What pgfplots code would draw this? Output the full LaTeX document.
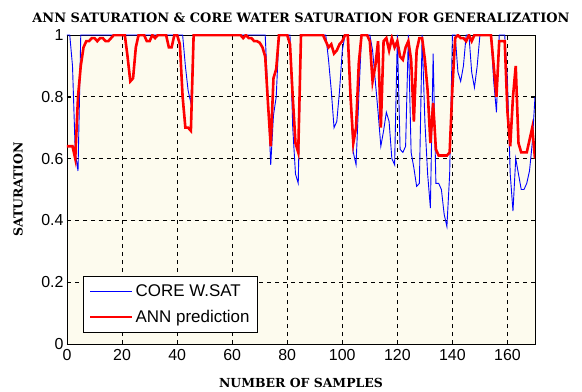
\documentclass[border=0pt]{standalone}
\usepackage{pgfplots}
\pgfplotsset{compat=1.18}
\usepackage{fontspec}
\setmainfont{Liberation Sans}
\newfontfamily\titlefont{DejaVu Serif}
\definecolor{bgcream}{RGB}{253,251,238}
\begin{document}
\begin{tikzpicture}
\begin{axis}[
  scale only axis,
  width=468bp, height=309bp,
  at={(0,0)}, anchor=south west,
  xmin=0, xmax=170, ymin=0, ymax=1,
  xtick={0,20,...,160},
  ytick={0,0.2,0.4,0.6,0.8,1},
  yticklabels={0,0.2,0.4,0.6,0.8,1},
  axis background/.style={fill=bgcream},
  grid=major,
  major grid style={black, dashed, line width=0.9bp, dash pattern=on 4bp off 4bp},
  tick align=inside,
  axis line style={black, line width=0.8bp},
  tick style={black},
  /pgf/number format/assume math mode=true,
  tick label style={font=\fontsize{16}{16}\selectfont},
  xticklabel style={yshift=-2bp},
  title={\titlefont\bfseries\fontsize{13}{13}\selectfont ANN SATURATION \& CORE WATER SATURATION FOR GENERALIZATION},
  title style={yshift=3bp},
  xlabel={\titlefont\bfseries\fontsize{12.5}{12.5}\selectfont NUMBER OF SAMPLES},
  ylabel={\titlefont\bfseries\fontsize{12.5}{12.5}\selectfont SATURATION},
  every axis x label/.style={at={(axis description cs:0.5,0)}, anchor=center, yshift=-39bp},
  every axis y label/.style={at={(axis description cs:0,0.5)}, xshift=-49bp, rotate=90, anchor=center},
  legend style={at={(0.034,0.039)}, anchor=south west, draw=black, fill=white,
    font=\fontsize{17}{19}\selectfont, inner xsep=6bp, inner ysep=6bp, row sep=8bp},
  legend cell align=left,
  legend image code/.code={\draw[#1] (0bp,0bp) -- (42bp,0bp);},
]
\addplot[blue, line width=0.9bp] table {
x y
0 1
1 1
2 0.9
3 0.62
4 0.56
5 1
42 1
43 0.90
44 0.82
45 0.78
46 1
72 1
73 0.80
74 0.58
75 0.74
76 0.80
77 1
81 1
82 0.70
83 0.55
84 0.52
85 1
94 1
95 0.92
96 0.82
97 0.70
98 0.72
99 0.82
100 0.95
101 1
102 1
103 0.78
104 0.62
105 0.58
106 0.80
107 1
110 1
111 0.95
112 0.85
113 0.75
114 0.64
115 0.69
116 0.75
117 0.72
118 0.60
119 0.58
120 1
121 0.63
122 0.62
123 0.64
124 1
125 0.62
126 0.57
127 0.51
128 0.52
129 1
130 0.72
131 0.55
132 0.44
133 0.94
134 0.52
135 0.52
136 0.50
137 0.42
138 0.38
139 0.55
140 1
141 1
142 0.88
143 0.85
144 0.90
145 1
146 1
147 0.88
148 0.83
149 0.90
150 1
154 1
155 0.85
156 0.75
157 1
159 1
160 0.85
161 0.55
162 0.43
163 0.60
164 0.55
165 0.50
166 0.50
167 0.52
168 0.56
169 0.65
170 0.80
};
\addlegendentry{CORE W.SAT}
\addplot[red, line width=2.6bp] table {
x y
0 0.64
1 0.64
2 0.64
3 0.60
4 0.80
5 0.90
6 0.96
7 0.98
8 0.98
9 0.99
10 0.99
11 0.98
12 0.99
13 0.99
14 0.98
15 0.98
16 0.99
17 1
21 1
22 0.93
23 0.85
24 0.86
25 0.96
26 1
28 1
29 0.98
30 0.98
31 1
32 0.99
33 1
36 1
37 0.96
38 0.96
39 1
40 1
41 0.97
42 0.80
43 0.70
44 0.70
45 0.69
46 1
63 1
64 0.99
65 1
66 0.99
67 0.99
68 0.98
69 0.98
70 0.975
71 0.96
72 0.93
73 0.78
74 0.64
75 0.86
76 0.89
77 1
80 1
81 0.97
82 0.80
83 0.65
84 0.62
85 1
93 1
94 0.98
95 0.96
96 0.97
97 0.94
98 0.95
99 0.97
100 0.98
101 1
102 1
103 0.80
104 0.65
105 0.70
106 0.91
107 1
109 1
110 0.98
111 0.85
112 0.90
113 0.98
114 0.70
115 0.98
116 0.99
117 0.95
118 0.99
119 0.96
120 0.98
121 0.93
122 0.92
123 0.96
124 0.98
125 0.92
126 0.72
127 0.95
128 0.99
129 0.99
130 0.92
131 0.82
132 0.65
133 0.78
134 0.63
135 0.61
136 0.61
137 0.61
138 0.61
139 0.62
140 0.83
141 0.99
142 1
143 0.99
144 0.99
145 0.98
146 1
147 0.98
148 1
154 1
155 0.90
156 0.80
157 0.98
158 0.98
159 0.98
160 0.75
161 0.64
162 0.80
163 0.90
164 0.65
165 0.62
166 0.62
167 0.62
168 0.66
169 0.70
170 0.60
};
\addlegendentry{ANN prediction}
\end{axis}
\path (-67bp,-48bp) rectangle (515bp,344bp);
\end{tikzpicture}
\end{document}
